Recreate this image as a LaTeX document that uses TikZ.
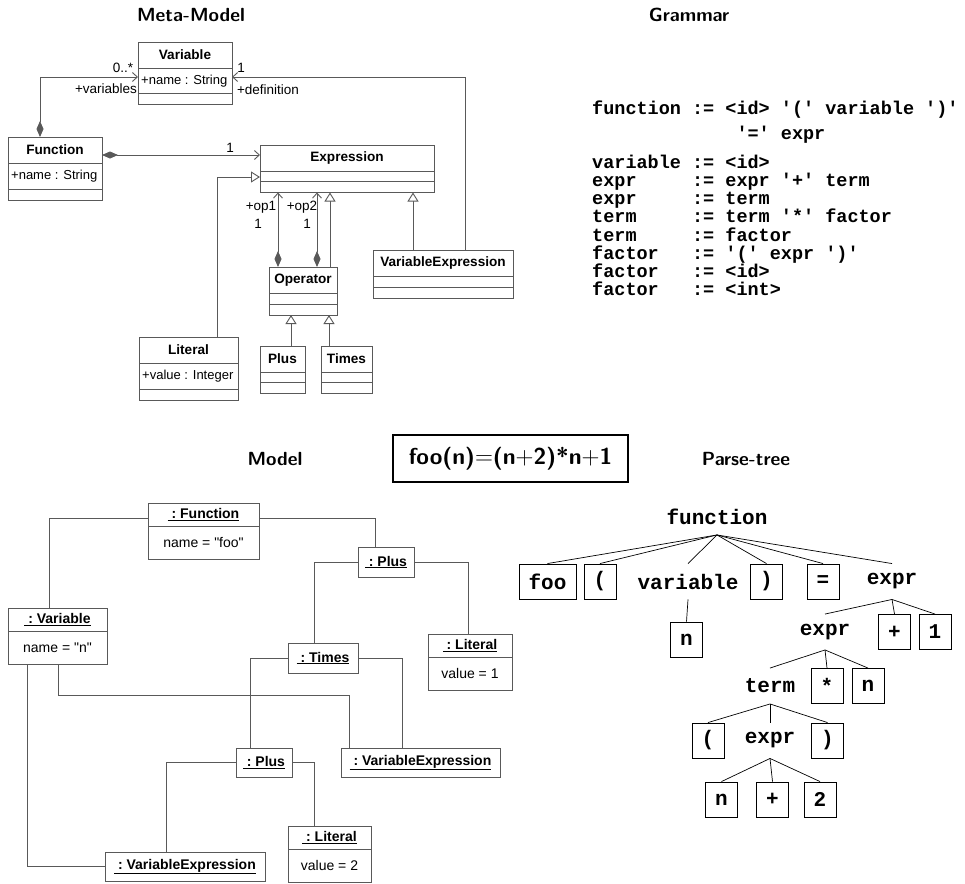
\documentclass[tikz,border=0pt]{standalone}
\usepackage{fontspec}
\usetikzlibrary{arrows.meta}
\newfontfamily\umlfont{Liberation Sans}
\newfontfamily\codefont{Liberation Mono}[Ligatures=TeXOff]

\definecolor{umlgray}{gray}{0.35}

\tikzset{
    umlbox/.style={draw=umlgray, fill=white, line width=0.9pt, inner sep=0pt, outer sep=0pt},
    umlline/.style={draw=umlgray, line width=0.9pt},
    umltitle/.style={inner sep=0pt, font=\umlfont\fontsize{13.6}{15}\selectfont\bfseries},
    umlattr/.style={inner sep=0pt, font=\umlfont\fontsize{13}{15}\selectfont},
    umllabel/.style={inner sep=0pt, font=\umlfont\fontsize{13.5}{15}\selectfont},
    objtitle/.style={inner sep=0pt, font=\umlfont\fontsize{14}{15}\selectfont\bfseries},
    objattr/.style={inner sep=0pt, font=\umlfont\fontsize{14}{15}\selectfont},
    composite/.style={arrows={Diamond[length=16pt,width=7pt]-Straight Barb[length=5pt,width=9pt]}},
    association/.style={arrows={-Straight Barb[length=5pt,width=9pt]}},
    generalization/.style={arrows={-Triangle[length=9pt,width=11pt,fill=white]}},
    heading/.style={inner sep=0pt, font=\sffamily\bfseries\fontsize{19}{22}\selectfont},
    formula/.style={draw, line width=1.8pt, minimum width=235pt, minimum height=47pt, font=\sffamily\bfseries\fontsize{23}{26}\selectfont},
    grammar/.style={anchor=north west, inner sep=0pt, align=left, font=\codefont\fontsize{18.5}{18.2}\selectfont\bfseries},
    treebox/.style={draw, line width=0.9pt, minimum width=32pt, minimum height=35pt, inner sep=2pt, font=\codefont\fontsize{21}{22}\selectfont\bfseries},
    treetext/.style={treebox, draw=none},
    treeedge/.style={line width=0.7pt},
}

% class box of the meta-model: name, left, top, width, title, attribute, height of attribute part
\newcommand{\metaclass}[7]{%
    \node[umlbox, minimum width=#4, minimum height={37+#7}, anchor=north west] (#1) at (#2,#3) {};
    \draw[umlline] ([yshift=-26pt]#1.north west) -- ([yshift=-26pt]#1.north east);
    \draw[umlline] ([yshift={-(26+#7)*1pt}]#1.north west) -- ([yshift={-(26+#7)*1pt}]#1.north east);
    \node[umltitle] (#1-title) at ([yshift=-13pt]#1.north) {#5};
    \node[umlattr, anchor=west] (#1-attr) at ([xshift=3pt, yshift={-(26+#7/2)*1pt}]#1.north west) {#6};
}

% object box of the model: name, left, top, width, title, attribute
\newcommand{\objbox}[6]{%
    \node[umlbox, minimum width=#4, minimum height=56, anchor=north west] (#1) at (#2,#3) {};
    \draw[umlline] ([yshift=-23pt]#1.north west) -- ([yshift=-23pt]#1.north east);
    \node[objtitle] (#1-title) at ([yshift=-11.5pt]#1.north) {\underline{\ :\ #5}};
    \node[objattr] (#1-attr) at ([yshift=-39.5pt]#1.north) {#6};
}

\begin{document}
\begin{tikzpicture}[x=1pt, y=-1pt]
            \useasboundingbox (0,0) rectangle (965,883);

            %Headings
            \node[heading] (hMeta) at (191, 15) {Meta-Model};
            \node[heading] (hGrammar) at (689, 15) {Grammar};
            \node[heading] (hModel) at (275, 459) {Model};
            \node[heading] (hParse) at (746, 459) {Parse-tree};
            \node[formula] (formula) at (510.5, 458.5) {foo(n)$=$(n$+$2)*n$+$1};

            %Meta-Model
                %Classes
            \metaclass{variable}{138}{42}{94}{Variable}{+name : String}{25.5}
            \metaclass{function}{8}{137}{94}{Function}{+name : String}{26}
            \metaclass{expression}{260}{145}{174}{Expression}{}{10.5}
            \metaclass{operator}{269}{267}{68}{Operator}{}{11}
            \metaclass{varexpr}{373}{250}{140}{VariableExpression}{}{11.5}
            \metaclass{literal}{139}{337}{99}{Literal}{+value : Integer}{26.5}
            \metaclass{plus}{260}{346}{45}{Plus}{}{10}
            \metaclass{times}{321}{346}{51}{Times}{}{10}

                %Associations
            \draw[umlline, composite] (40,0 |- function.north) |- (variable.west |- 0,77);
            \draw[umlline, composite] (function.east |- 0,155) -- (expression.west |- 0,155);
            \draw[umlline, composite] (278,0 |- operator.north) -- (278,0 |- expression.south);
            \draw[umlline, composite] (317,0 |- operator.north) -- (317,0 |- expression.south);
            \draw[umlline, association] (465,0 |- varexpr.north) |- (variable.east |- 0,77);

                %Generalizations
            \draw[umlline, generalization] (217,0 |- literal.north) |- (expression.west |- 0,177);
            \draw[umlline, generalization] (330,0 |- operator.north) -- (330,0 |- expression.south);
            \draw[umlline, generalization] (413,0 |- varexpr.north) -- (413,0 |- expression.south);
            \draw[umlline, generalization] (291,0 |- plus.north) -- (291,0 |- operator.south);
            \draw[umlline, generalization] (329,0 |- times.north) -- (329,0 |- operator.south);

                %Role names
            \node[umllabel] (lMany) at (123, 68) {0..*};
            \node[umllabel] (lVars) at (106, 89) {+variables};
            \node[umllabel] (lDefOne) at (241, 68) {1};
            \node[umllabel] (lDef) at (268, 90) {+definition};
            \node[umllabel] (lBody) at (230, 148) {1};
            \node[umllabel] (lOpA) at (261, 207) {+op1};
            \node[umllabel] (lOpAOne) at (258, 224) {1};
            \node[umllabel] (lOpB) at (302, 207) {+op2};
            \node[umllabel] (lOpBOne) at (307, 224) {1};

            %Grammar
            \node[grammar] (rules) at (592, 100.5) {function~:=~<id>~'('~variable~')'\\[6.8pt]
                ~~~~~~~~~~~~~'='~expr\\[10.8pt]
                variable~:=~<id>\\
                expr~~~~~:=~expr~'+'~term\\
                expr~~~~~:=~term\\
                term~~~~~:=~term~'*'~factor\\
                term~~~~~:=~factor\\
                factor~~~:=~'('~expr~')'\\
                factor~~~:=~<id>\\
                factor~~~:=~<int>};

            %Model
                %Objects
            \objbox{fnObj}{148}{503}{111}{Function}{name = "foo"}
            \objbox{varObj}{8}{608}{99}{Variable}{name = "n"}
            \objbox{litA}{428}{634}{84}{Literal}{value = 1}
            \objbox{litB}{288}{826}{83}{Literal}{value = 2}
            \node[umlbox, objtitle, minimum width=56, minimum height=30, anchor=north west] (plusA) at (358, 547) {\underline{\ :\ Plus}};
            \node[umlbox, objtitle, minimum width=70, minimum height=30, anchor=north west] (timesA) at (288, 643) {\underline{\ :\ Times}};
            \node[umlbox, objtitle, minimum width=159, minimum height=29, anchor=north west] (vexA) at (341, 748) {\underline{\ :\ VariableExpression}};
            \node[umlbox, objtitle, minimum width=56, minimum height=29, anchor=north west] (plusB) at (236, 748) {\underline{\ :\ Plus}};
            \node[umlbox, objtitle, minimum width=160, minimum height=29, anchor=north west] (vexB) at (105, 852) {\underline{\ :\ VariableExpression}};

                %Links
            \draw[umlline] (fnObj.west |- 0,518) -| (49,0 |- varObj.north);
            \draw[umlline] (fnObj.east |- 0,518) -| (375,0 |- plusA.north);
            \draw[umlline] (plusA.west) -| (314,0 |- timesA.north);
            \draw[umlline] (plusA.east) -| (468,0 |- litA.north);
            \draw[umlline] (timesA.west) -| (250,0 |- plusB.north);
            \draw[umlline] (timesA.east) -| (402,0 |- vexA.north);
            \draw[umlline] (58,0 |- varObj.south) -- (58,695) -| (349,0 |- vexA.north);
            \draw[umlline] (plusB.west) -| (166,0 |- vexB.north);
            \draw[umlline] (plusB.east) -| (314,0 |- litB.north);
            \draw[umlline] (27,0 |- varObj.south) |- (vexB.west);

            %Parse-tree
                %Nodes
            \node[treetext] (fn) at (717, 517) {function};
            \node[treebox, minimum width=57pt] (foo) at (547.5, 581.5) {foo};
            \node[treebox] (lp) at (600, 581.5) {(};
            \node[treetext] (var) at (688, 581.5) {variable};
            \node[treebox] (rp) at (766.5, 581.5) {)};
            \node[treebox] (eq) at (823, 581.5) {=};
            \node[treetext] (exA) at (892, 581.5) {expr};
            \node[treebox] (nA) at (686.5, 639.5) {n};
            \node[treetext] (exB) at (825, 632) {expr};
            \node[treebox] (plusT) at (894.5, 632) {+};
            \node[treebox] (one) at (935, 632) {1};
            \node[treetext] (term) at (770, 686) {term};
            \node[treebox] (star) at (827, 686) {*};
            \node[treebox] (nB) at (868, 686) {n};
            \node[treebox] (lpB) at (708, 740.5) {(};
            \node[treetext] (exC) at (770, 740.5) {expr};
            \node[treebox] (rpB) at (827.5, 740.5) {)};
            \node[treebox] (nC) at (721.5, 799.5) {n};
            \node[treebox] (plusU) at (772.5, 799.5) {+};
            \node[treebox] (two) at (820, 799.5) {2};

                %Edges
            \draw[treeedge] (fn.south) -- (foo.north);
            \draw[treeedge] (fn.south) -- (lp.north);
            \draw[treeedge] (fn.south) -- (var.north);
            \draw[treeedge] (fn.south) -- (rp.north);
            \draw[treeedge] (fn.south) -- (eq.north);
            \draw[treeedge] (fn.south) -- (exA.north);
            \draw[treeedge] (var.south) -- (nA.north);
            \draw[treeedge] (exA.south) -- (exB.north);
            \draw[treeedge] (exA.south) -- (plusT.north);
            \draw[treeedge] (exA.south) -- (one.north);
            \draw[treeedge] (exB.south) -- (term.north);
            \draw[treeedge] (exB.south) -- (star.north);
            \draw[treeedge] (exB.south) -- (nB.north);
            \draw[treeedge] (term.south) -- (lpB.north);
            \draw[treeedge] (term.south) -- (exC.north);
            \draw[treeedge] (term.south) -- (rpB.north);
            \draw[treeedge] (exC.south) -- (nC.north);
            \draw[treeedge] (exC.south) -- (plusU.north);
            \draw[treeedge] (exC.south) -- (two.north);

\end{tikzpicture}
\end{document}
